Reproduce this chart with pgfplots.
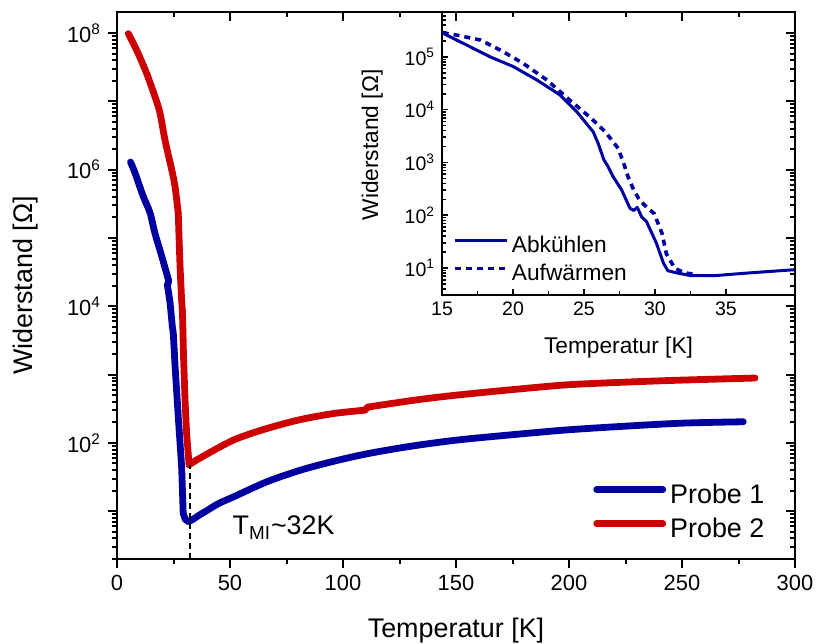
\documentclass[border=0pt]{standalone}
\usepackage{pgfplots}
\pgfplotsset{compat=1.18}
\usepackage{fontspec}
\setmainfont{Liberation Sans}
\definecolor{pblue}{RGB}{0,0,160}
\definecolor{pred}{RGB}{204,0,0}
\begin{document}
\begin{tikzpicture}
\useasboundingbox (0,0) rectangle (408bp,322bp);
\begin{axis}[
  scale only axis, width=339bp, height=273.5bp,
  at={(58.5bp,42.5bp)}, anchor=south west,
  xmin=0, xmax=300, ymode=log, ymin=2, ymax=2.03e8,
  xtick={0,50,100,150,200,250,300}, minor x tick num=1,
  ytick={1e1,1e2,1e3,1e4,1e5,1e6,1e7,1e8},
  minor ytick={2,3,4,5,6,7,8,9,20,30,40,50,60,70,80,90,200,300,400,500,600,700,800,900,2000,3000,4000,5000,6000,7000,8000,9000,2e4,3e4,4e4,5e4,6e4,7e4,8e4,9e4,2e5,3e5,4e5,5e5,6e5,7e5,8e5,9e5,2e6,3e6,4e6,5e6,6e6,7e6,8e6,9e6,2e7,3e7,4e7,5e7,6e7,7e7,8e7,9e7},
  major tick length=4.5bp, minor tick length=2.5bp,
  every tick/.style={black, line width=1bp},
  axis line style={line width=1bp},
  yticklabels={,10\textsuperscript{2},,10\textsuperscript{4},,10\textsuperscript{6},,10\textsuperscript{8}},
  xtick pos=left, ytick pos=left, tick align=outside,
  /pgf/number format/assume math mode=true,
  tick label style={font=\fontsize{11}{13}\selectfont},
  xlabel={Temperatur [K]}, ylabel={Widerstand [Ω]},
  every axis x label/.style={at={(axis description cs:0.5,-0.1444)}, anchor=base, font=\fontsize{13.5}{16}\selectfont},
  every axis y label/.style={at={(axis description cs:-0.1239,0.5)}, anchor=base, rotate=90, font=\fontsize{13.5}{16}\selectfont},
  legend style={draw=none, fill=none, at={(axis description cs:0.702,0.020)}, anchor=south west, inner sep=0pt, row sep=0pt,
    nodes={font=\fontsize{13.5}{16}\selectfont, text height=10bp, text depth=3bp, inner sep=2bp}},
  legend cell align=left,
  legend image code/.code={\draw[#1] (0bp,3.5bp) -- (33bp,3.5bp);},
]
% Probe 1, low temperature part (smooth)
\addplot[pblue, line width=3.4bp, line cap=round, smooth, tension=0.5] coordinates {
(6.0,1.29e6) (8.0,8.9e5) (11.6,4.07e5) (14.6,2.34e5) (16.8,1.17e5) (19.8,5.4e4) (22.9,2.35e4)
};
\addlegendentry{Probe 1}
% Probe 1, transition
\addplot[pblue, line width=3.4bp, line cap=round, line join=round, forget plot] coordinates {
(22.9,2.35e4) (22.3,2.04e4) (23.5,1.12e4) (24.5,5.0e3) (24.9,4.07e3) (25.7,1.32e3) (27.1,245)
(28.6,44.7) (29.3,9.3) (30.2,7.6) (31.5,7.1)
};
% Probe 1, metallic part
\addplot[pblue, line width=3.4bp, line cap=round, smooth, tension=0.5, forget plot] coordinates {
(31.5,7.1) (33,7.4) (36.7,8.9) (39.7,10.2) (45,13.0)
(51.5,16.2) (66.2,26.9) (81,39.8) (95.7,53.7) (110.5,69.2) (129.6,89) (150.3,110) (175,132)
(199,155) (225,176) (250.6,195) (277.1,204)
};
% Probe 2, low temperature part (smooth)
\addplot[pred, line width=3.4bp, line cap=round, smooth, tension=0.5] coordinates {
(5.0,9.8e7) (8.7,5.6e7) (13.1,2.57e7) (16.8,1.17e7) (19.0,6.8e6) (21.2,2.75e6) (24.2,1.0e6)
(25.7,5.6e5) (27.1,2.3e5)
};
\addlegendentry{Probe 2}
% Probe 2, transition
\addplot[pred, line width=3.4bp, line cap=round, line join=round, forget plot] coordinates {
(27.1,2.3e5) (27.9,3.8e4) (28.6,1.23e4) (29.0,7.9e3) (29.4,2.0e3) (30.1,427)
(30.8,138) (31.9,47.9)
};
% Probe 2, metallic part
\addplot[pred, line width=3.4bp, line cap=round, smooth, tension=0.5, forget plot] coordinates {
(31.9,47.9) (36.7,60) (51.5,110) (66.2,162) (81,219) (95.7,269) (109.7,302)
};
\addplot[pred, line width=3.4bp, line cap=round, forget plot] coordinates {(109.7,302) (111,335)};
\addplot[pred, line width=3.4bp, line cap=round, smooth, tension=0.5, forget plot] coordinates {
(111,335) (132.6,427) (150.3,501) (175,603) (199,708) (225,776) (250.6,832) (282.3,891)
};
\addplot[black, line width=1.2bp, dash pattern=on 3bp off 2bp, forget plot] coordinates {(32.3,2) (32.3,47)};
\node[anchor=base west, font=\fontsize{13.5}{16}\selectfont, inner sep=0pt] at (axis cs:51,4.5) {T\textsubscript{MI}\textasciitilde32K};
\end{axis}
\begin{axis}[
  scale only axis, width=176.5bp, height=141.5bp,
  at={(221bp,174.5bp)}, anchor=south west,
  axis background/.style={fill=white},
  xmin=15, xmax=39.86, ymode=log, ymin=3.08, ymax=7.1e5,
  xtick={15,20,25,30,35}, minor x tick num=1,
  ytick={1e1,1e2,1e3,1e4,1e5},
  yticklabels={10\textsuperscript{1},10\textsuperscript{2},10\textsuperscript{3},10\textsuperscript{4},10\textsuperscript{5}},
  minor ytick={4,5,6,7,8,9,20,30,40,50,60,70,80,90,200,300,400,500,600,700,800,900,2000,3000,4000,5000,6000,7000,8000,9000,2e4,3e4,4e4,5e4,6e4,7e4,8e4,9e4,2e5,3e5,4e5,5e5,6e5,7e5},
  xtick pos=left, ytick pos=left, tick align=inside,
  major tick length=3bp, minor tick length=1.8bp,
  every tick/.style={black, line width=0.8bp},
  axis line style={line width=1bp},
  /pgf/number format/assume math mode=true,
  tick label style={font=\fontsize{9.8}{12}\selectfont},
  xlabel={Temperatur [K]}, ylabel={Widerstand [Ω]},
  every axis x label/.style={at={(axis description cs:0.5,-0.205)}, anchor=base, font=\fontsize{11.4}{14}\selectfont},
  every axis y label/.style={at={(axis description cs:-0.181,0.53)}, anchor=base, rotate=90, font=\fontsize{11.4}{14}\selectfont},
  legend style={draw=none, fill=none, at={(axis description cs:0.031,0.021)}, anchor=south west, inner sep=0pt, row sep=0pt,
    nodes={font=\fontsize{11.4}{14}\selectfont, text height=8.5bp, text depth=2.5bp, inner sep=1.5bp}},
  legend cell align=left,
  legend image code/.code={\draw[#1] (0bp,3bp) -- (26bp,3bp);},
]
\addplot[pblue, line width=1.5bp, line join=round] coordinates {
(15.05,2.82e5) (16.7,1.70e5) (18.4,1.0e5) (20.0,6.6e4) (21.7,3.63e4) (23.3,1.91e4) (24.5,9.1e3)
(25.65,3.8e3) (26.0,2.29e3) (26.4,1.12e3) (26.7,832) (27.05,537) (27.65,302) (28.24,135)
(28.5,123) (28.75,141) (29.06,93) (29.4,76) (30.1,29.5) (30.6,12.3) (30.9,8.9) (31.5,8.1)
(32.5,7.2) (34.3,7.2) (36.7,8.1) (39.86,9.3)
};
\addlegendentry{Abkühlen}
\addplot[pblue, line width=1.8bp, dash pattern=on 3bp off 2.5bp] coordinates {
(15.05,2.88e5) (15.9,2.63e5) (17.7,2.09e5) (19.1,1.35e5) (20.7,7.6e4) (22.4,3.63e4) (24.0,1.51e4)
(25.5,6.9e3) (26.5,3.8e3) (27.4,1.86e3) (27.8,955) (28.1,537) (28.5,302) (28.9,195) (29.5,135)
(29.95,107) (30.5,44.7) (30.8,18.6) (31.4,9.8) (32.1,8.1) (33.0,7.4)
};
\addlegendentry{Aufwärmen}
\end{axis}
\begin{axis}[
  scale only axis, width=339bp, height=273.5bp,
  at={(58.5bp,42.5bp)}, anchor=south west,
  xmin=0, xmax=300, ymode=log, ymin=2, ymax=2.03e8,
  xtick={0,50,100,150,200,250,300}, minor x tick num=1,
  ytick={1e1,1e2,1e3,1e4,1e5,1e6,1e7,1e8},
  minor ytick={2,3,4,5,6,7,8,9,20,30,40,50,60,70,80,90,200,300,400,500,600,700,800,900,2000,3000,4000,5000,6000,7000,8000,9000,2e4,3e4,4e4,5e4,6e4,7e4,8e4,9e4,2e5,3e5,4e5,5e5,6e5,7e5,8e5,9e5,2e6,3e6,4e6,5e6,6e6,7e6,8e6,9e6,2e7,3e7,4e7,5e7,6e7,7e7,8e7,9e7},
  major tick length=4.5bp, minor tick length=2.5bp,
  every tick/.style={black, line width=1bp},
  axis line style={line width=1bp},
  xticklabels={}, yticklabels={},
  xtick pos=right, ytick pos=right, tick align=inside,
]
\end{axis}
\end{tikzpicture}
\end{document}
